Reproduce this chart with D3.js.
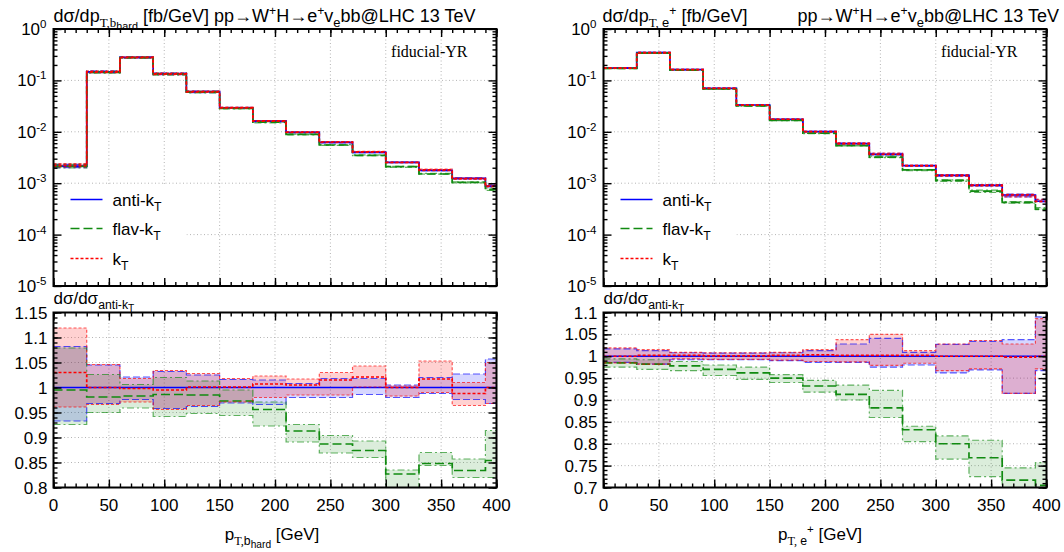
<!DOCTYPE html>
<html>
<head>
<meta charset="utf-8">
<script src="https://cdn.jsdelivr.net/npm/d3@7"></script>
<style>
  body { margin: 0; background: #fff; }
  svg text { font-family: "Liberation Sans", Arial, Helvetica, sans-serif; fill: #000; }
  .grid line { stroke: #b4b4b4; stroke-width: 1; stroke-dasharray: 1,2.5; }
  .ticks line { stroke: #000; stroke-width: 1.4; }
</style>
</head>
<body>
<svg id="chart" width="1064" height="552"></svg>
<script>
// bin edges in GeV (last bin runs past the 400 GeV frame)
var binEdges = [0, 30, 60, 90, 120, 150, 180, 210, 240, 270, 300, 330, 360, 390, 420];

// ---- p_T of hardest b : anti-kT cross section [fb/GeV]
var bhardAnti = [0.00215, 0.146, 0.281, 0.135, 0.0603, 0.0294, 0.0162, 0.00977, 0.00624, 0.00398, 0.00255, 0.00178, 0.00124, 0.00088];
// ratios to anti-kT central
var bhardAntiLo = [0.933, 0.968, 0.976, 0.958, 0.962, 0.969, 0.966, 0.980, 0.980, 0.986, 0.980, 0.988, 0.976, 0.968];
var bhardAntiHi = [1.082, 1.045, 1.021, 1.032, 1.025, 1.016, 1.015, 1.008, 1.018, 1.018, 1.005, 1.020, 1.027, 1.057];
var bhardFlav   = [0.995, 0.981, 0.983, 0.986, 0.985, 0.973, 0.956, 0.913, 0.887, 0.874, 0.827, 0.848, 0.834, 0.854];
var bhardFlavLo = [0.926, 0.950, 0.959, 0.942, 0.948, 0.944, 0.923, 0.891, 0.869, 0.860, 0.800, 0.844, 0.820, 0.820];
var bhardFlavHi = [1.079, 1.026, 1.006, 1.020, 1.013, 0.995, 0.971, 0.926, 0.904, 0.893, 0.835, 0.870, 0.857, 0.914];
var bhardKt     = [1.030, 1.000, 0.998, 0.995, 1.001, 1.001, 1.007, 1.005, 1.015, 1.021, 1.000, 1.017, 0.988, 1.000];
var bhardKtLo   = [0.961, 0.966, 0.971, 0.956, 0.964, 0.971, 0.980, 0.985, 0.985, 1.001, 0.983, 0.990, 0.964, 0.968];
var bhardKtHi   = [1.119, 1.046, 1.018, 1.034, 1.028, 1.018, 1.023, 1.017, 1.030, 1.043, 1.003, 1.053, 1.010, 1.050];

// ---- p_T of positron
var lepAnti = [0.174, 0.346, 0.162, 0.0702, 0.0332, 0.0175, 0.01006, 0.00588, 0.00365, 0.00219, 0.00142, 0.00091, 0.00059, 0.000445];
var lepAntiLo = [0.986, 0.982, 0.992, 0.992, 0.992, 0.990, 0.986, 0.986, 0.975, 0.980, 0.962, 0.969, 0.915, 0.967];
var lepAntiHi = [1.017, 1.013, 1.008, 1.007, 1.007, 1.008, 1.013, 1.028, 1.041, 1.009, 1.027, 1.034, 1.038, 1.090];
var lepFlav   = [0.985, 0.982, 0.978, 0.970, 0.962, 0.950, 0.932, 0.913, 0.882, 0.832, 0.800, 0.768, 0.717, 0.705];
var lepFlavLo = [0.975, 0.970, 0.967, 0.956, 0.947, 0.940, 0.918, 0.900, 0.860, 0.805, 0.765, 0.725, 0.690, 0.690];
var lepFlavHi = [0.994, 0.992, 0.988, 0.980, 0.975, 0.958, 0.945, 0.934, 0.922, 0.840, 0.818, 0.808, 0.745, 0.757];
var lepKt     = [1.000, 1.002, 1.002, 1.001, 1.001, 1.002, 1.003, 1.002, 1.002, 1.002, 1.000, 1.000, 0.998, 1.000];
var lepKtLo   = [0.985, 0.982, 0.994, 0.993, 0.993, 0.991, 0.988, 0.987, 0.979, 0.984, 0.967, 0.971, 0.915, 0.971];
var lepKtHi   = [1.019, 1.015, 1.009, 1.008, 1.008, 1.009, 1.015, 1.038, 1.050, 1.013, 1.028, 1.036, 1.028, 1.086];

var xTicks = [0, 50, 100, 150, 200, 250, 300, 350, 400];
var logTicks = [1, 1e-1, 1e-2, 1e-3, 1e-4, 1e-5];
var logLabels = ["0", "-1", "-2", "-3", "-4", "-5"];
var bhardRatioTicks = ["0.8", "0.85", "0.9", "0.95", "1", "1.05", "1.1", "1.15"];
var lepRatioTicks = ["0.7", "0.75", "0.8", "0.85", "0.9", "0.95", "1", "1.05", "1.1"];
var legendNames = ["anti-k", "flav-k", "k"];

var ones = binEdges.slice(0, 14).map(function() { return 1; });

var styles = [
  { color: "#0000ff", dash: null,      edge: "7,3",      fill: "rgba(0,0,255,0.16)" },
  { color: "#118a11", dash: "9,4",     edge: "7,3,2,3",  fill: "rgba(0,128,0,0.14)" },
  { color: "#ff0000", dash: "3,2",     edge: "3,2",      fill: "rgba(255,0,0,0.18)" }
];

var panels = [
  { x0: 53.5, x1: 496.5, anti: bhardAnti, ratioTicks: bhardRatioTicks, ratioDomain: [0.8, 1.15],
    series: [[ones, bhardAntiLo, bhardAntiHi], [bhardFlav, bhardFlavLo, bhardFlavHi], [bhardKt, bhardKtLo, bhardKtHi]],
    key: "b" },
  { x0: 603.5, x1: 1046.5, anti: lepAnti, ratioTicks: lepRatioTicks, ratioDomain: [0.7, 1.1],
    series: [[ones, lepAntiLo, lepAntiHi], [lepFlav, lepFlavLo, lepFlavHi], [lepKt, lepKtLo, lepKtHi]],
    key: "e" }
];

var svg = d3.select("#chart");
var topY0 = 29, topY1 = 286, botY0 = 312.5, botY1 = 487.5;

// text with sub/superscripts: parts = [text, level, family]
function rich(g, x, y, parts, anchor, size) {
  size = size || 17;
  var t = g.append("text").attr("x", x).attr("y", y).attr("text-anchor", anchor || "start")
    .style("font-size", size + "px");
  var cur = 0;
  var off = { "0": 0, "-1": 5, "-2": 8, "1": -7 };
  var sz = { "0": size, "-1": size * 0.72, "-2": size * 0.6, "1": size * 0.68 };
  parts.forEach(function(p) {
    var lvl = String(p[1] || 0);
    var ts = t.append("tspan").attr("dy", off[lvl] - cur).style("font-size", sz[lvl] + "px").text(p[0]);
    if (p[2]) ts.style("font-family", p[2]);
    cur = off[lvl];
  });
  return t;
}

function steps(vals) {
  return binEdges.map(function(e, i) { return [e, vals[Math.min(i, vals.length - 1)]]; });
}

panels.forEach(function(p, pi) {
  var x = d3.scaleLinear().domain([0, 400]).range([p.x0, p.x1]);
  var yLog = d3.scaleLog().domain([1e-5, 1]).range([topY1, topY0]);
  var yRat = d3.scaleLinear().domain(p.ratioDomain).range([botY1, botY0]);

  var defs = svg.append("defs");
  defs.append("clipPath").attr("id", "clipT" + pi).append("rect")
    .attr("x", p.x0).attr("y", topY0).attr("width", p.x1 - p.x0).attr("height", topY1 - topY0);
  defs.append("clipPath").attr("id", "clipB" + pi).append("rect")
    .attr("x", p.x0).attr("y", botY0).attr("width", p.x1 - p.x0).attr("height", botY1 - botY0);

  // minor tick values
  var logMinor = [];
  for (var e = -5; e < 0; e++) for (var m = 2; m < 10; m++) logMinor.push(m * Math.pow(10, e));
  var ratMajor = p.ratioTicks.map(Number);
  var ratMinor = d3.range(Math.round(p.ratioDomain[0] * 100), Math.round(p.ratioDomain[1] * 100) + 1)
    .map(function(v) { return v / 100; });
  var xMinor = d3.range(0, 401, 10);

  [["T", yLog, topY0, topY1, logTicks, logMinor], ["B", yRat, botY0, botY1, ratMajor, ratMinor]].forEach(function(r) {
    var y = r[1], ya = r[2], yb = r[3];
    // grid
    var grid = svg.append("g").attr("class", "grid");
    grid.selectAll(".gx").data(xTicks.slice(1, -1)).enter().append("line")
      .attr("x1", x).attr("x2", x).attr("y1", ya).attr("y2", yb);
    grid.selectAll(".gy").data(r[4].filter(function(v) { return y(v) > ya + 1 && y(v) < yb - 1; })).enter().append("line")
      .attr("x1", p.x0).attr("x2", p.x1).attr("y1", y).attr("y2", y);

    if (r[0] === "T") {
      // legend background hides the grid
      svg.append("rect").attr("x", p.x0 + 1).attr("y", 185).attr("width", 132).attr("height", yb - 186).attr("fill", "#fff");
    }

    var plot = svg.append("g").attr("clip-path", "url(#clip" + r[0] + pi + ")");
    var scaleVal = function(s, i) { return r[0] === "T" ? p.anti[i] * s : s; };
    var line = d3.line().curve(d3.curveStepAfter).x(function(d) { return x(d[0]); }).y(function(d) { return y(d[1]); });
    var area = d3.area().curve(d3.curveStepAfter).x(function(d) { return x(d[0]); })
      .y0(function(d) { return y(d[1]); }).y1(function(d) { return y(d[2]); });

    p.series.forEach(function(s, si) {
      var pts = binEdges.map(function(e, i) {
        var k = Math.min(i, 13);
        return [e, scaleVal(s[1][k], k), scaleVal(s[2][k], k)];
      });
      plot.append("path").attr("d", area(pts)).attr("fill", styles[si].fill).attr("stroke", "none");
    });
    p.series.forEach(function(s, si) {
      [1, 2].forEach(function(j) {
        var v = s[j].map(scaleVal);
        plot.append("path").attr("d", line(steps(v))).attr("fill", "none")
          .attr("stroke", styles[si].color).attr("stroke-opacity", 0.65).attr("stroke-width", 1.2)
          .attr("stroke-dasharray", styles[si].edge);
      });
      var c = s[0].map(scaleVal);
      plot.append("path").attr("d", line(steps(c))).attr("fill", "none")
        .attr("stroke", styles[si].color).attr("stroke-width", 1.7)
        .attr("stroke-dasharray", styles[si].dash);
    });

    // ticks on all four sides, pointing inward
    var tk = function(axis, tr) {
      var g = svg.append("g").attr("class", "ticks").attr("transform", tr).call(axis);
      g.select(".domain").remove();
      g.selectAll("text").remove();
    };
    tk(d3.axisLeft(y).tickValues(r[4]).tickSize(-8), "translate(" + p.x0 + ",0)");
    tk(d3.axisLeft(y).tickValues(r[5]).tickSize(-4), "translate(" + p.x0 + ",0)");
    tk(d3.axisRight(y).tickValues(r[4]).tickSize(-8), "translate(" + p.x1 + ",0)");
    tk(d3.axisRight(y).tickValues(r[5]).tickSize(-4), "translate(" + p.x1 + ",0)");
    tk(d3.axisTop(x).tickValues(xTicks).tickSize(-8), "translate(0," + ya + ")");
    tk(d3.axisTop(x).tickValues(xMinor).tickSize(-4), "translate(0," + ya + ")");
    tk(d3.axisBottom(x).tickValues(xTicks).tickSize(-8), "translate(0," + yb + ")");
    tk(d3.axisBottom(x).tickValues(xMinor).tickSize(-4), "translate(0," + yb + ")");

    svg.append("rect").attr("x", p.x0).attr("y", ya).attr("width", p.x1 - p.x0).attr("height", yb - ya)
      .attr("fill", "none").attr("stroke", "#000").attr("stroke-width", 2);
  });

  // y labels
  logTicks.forEach(function(v, i) {
    rich(svg, p.x0 - 7, yLog(v) + 6, [["10", 0], [logLabels[i], 1]], "end");
  });
  p.ratioTicks.forEach(function(t) {
    svg.append("text").attr("x", p.x0 - 6).attr("y", yRat(+t) + 6).attr("text-anchor", "end")
      .style("font-size", "17px").text(t);
  });
  // x labels
  xTicks.forEach(function(t) {
    svg.append("text").attr("x", x(t)).attr("y", 511).attr("text-anchor", "middle")
      .style("font-size", "17px").text(t);
  });

  // titles
  if (p.key === "b") {
    rich(svg, p.x0, 22, [["dσ/dp", 0], ["T,b", -1, "Liberation Serif"], ["hard", -2], [" [fb/GeV] pp→W", 0], ["+", 1],
      ["H→e", 0], ["+", 1], ["v", 0], ["e", -1], ["bb@LHC 13 TeV", 0]], "start", 18);
    rich(svg, (p.x0 + p.x1) / 2 - 3, 540, [["p", 0], ["T,", -1, "Liberation Serif"], ["b", -1], ["hard", -2], [" [GeV]", 0]], "middle");
  } else {
    rich(svg, p.x0 - 1, 22, [["dσ/dp", 0], ["T, ", -1, "Liberation Serif"], ["e", -1], ["+", 1], [" [fb/GeV]", 0]], "start", 18);
    rich(svg, 1059, 22, [["pp→W", 0], ["+", 1], ["H→e", 0], ["+", 1], ["v", 0], ["e", -1], ["bb@LHC 13 TeV", 0]], "end", 18);
    rich(svg, (p.x0 + p.x1) / 2 - 5, 540, [["p", 0], ["T, ", -1, "Liberation Serif"], ["e", -1], ["+", 1], [" [GeV]", 0]], "middle");
  }
  rich(svg, p.x0, 304, [["dσ/dσ", 0], ["anti-k", -1], ["T", -2]]);

  svg.append("text").attr("x", p.x1 - 29).attr("y", 57).attr("text-anchor", "end")
    .style("font-family", "'Liberation Serif', 'Times New Roman', serif").style("font-size", "16px").text("fiducial-YR");

  // legend
  var legY = [199.5, 228.5, 258.5];
  legendNames.forEach(function(n, i) {
    svg.append("line").attr("x1", p.x0 + 17).attr("x2", p.x0 + 49).attr("y1", legY[i]).attr("y2", legY[i])
      .attr("stroke", styles[i].color).attr("stroke-width", 1.7).attr("stroke-dasharray", styles[i].dash);
    rich(svg, p.x0 + 59, legY[i] + 6, [[n, 0], ["T", -1]]);
  });
});
</script>
</body>
</html>
